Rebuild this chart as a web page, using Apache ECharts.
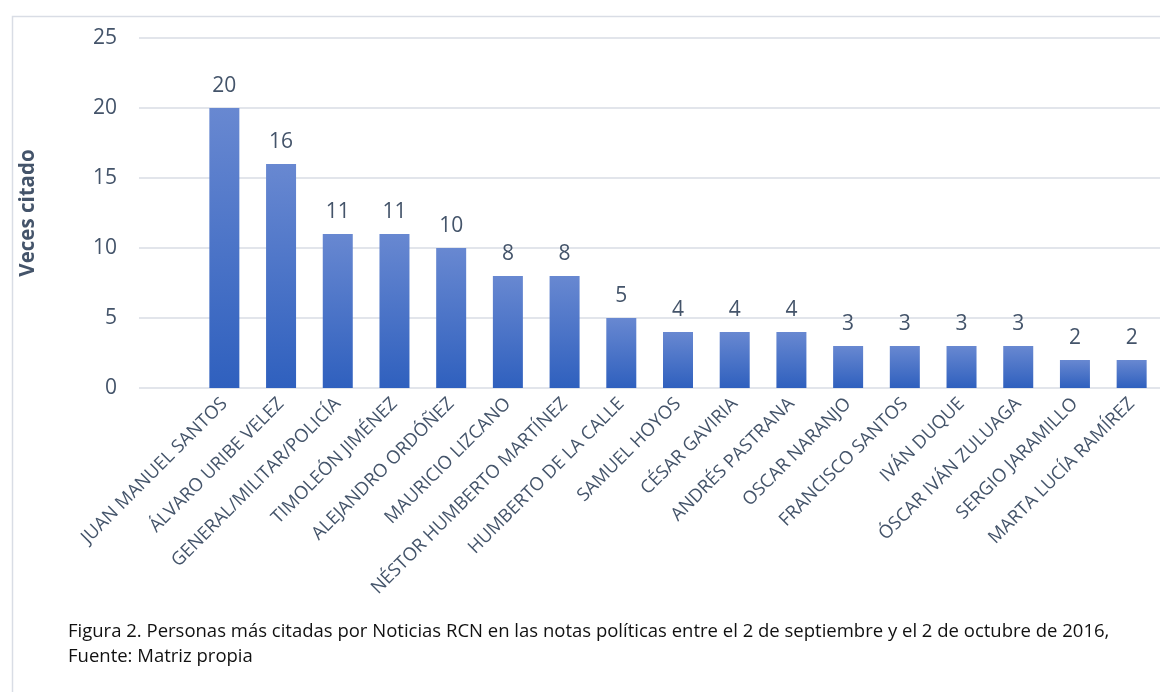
<!DOCTYPE html>
<html>
<head>
<meta charset="utf-8">
<script src="https://cdn.jsdelivr.net/npm/echarts@6/dist/echarts.min.js"></script>
<style>
  html, body { margin: 0; padding: 0; background: #fff; }
  #chart { width: 1160px; height: 692px; }
</style>
</head>
<body>
<div id="chart"></div>
<script>
const personas = [
  'JUAN MANUEL SANTOS', 'ÁLVARO URIBE VELEZ', 'GENERAL/MILITAR/POLICÍA',
  'TIMOLEÓN JIMÉNEZ', 'ALEJANDRO ORDÓÑEZ', 'MAURICIO LIZCANO',
  'NÉSTOR HUMBERTO MARTÍNEZ', 'HUMBERTO DE LA CALLE', 'SAMUEL HOYOS',
  'CÉSAR GAVIRIA', 'ANDRÉS PASTRANA', 'OSCAR NARANJO', 'FRANCISCO SANTOS',
  'IVÁN DUQUE', 'ÓSCAR IVÁN ZULUAGA', 'SERGIO JARAMILLO', 'MARTA LUCÍA RAMÍREZ'
]
const vecesCitado = [20, 16, 11, 11, 10, 8, 8, 5, 4, 4, 4, 3, 3, 3, 3, 2, 2]
const yTicks = [0, 5, 10, 15, 20, 25]

const captionLines = [
  'Figura 2. Personas más citadas por Noticias RCN en las notas políticas entre el 2 de septiembre y el 2 de octubre de 2016,',
  'Fuente: Matriz propia'
]

const font = '"Open Sans", Lato, sans-serif'
const textColor = '#44546a'
const gridColor = '#d9dde5'

const chart = echarts.init(document.getElementById('chart'))

chart.setOption({
  animation: false,
  textStyle: { fontFamily: font },
  graphic: [
    {
      type: 'rect',
      left: 10, top: 14,
      shape: { width: 1300, height: 800 },
      style: { fill: 'none', stroke: '#d9dde5', lineWidth: 1.5 },
      silent: true
    },
    {
      type: 'text',
      left: 68, top: 619,
      style: {
        text: captionLines.join('\n'),
        font: '18.5px ' + font,
        fill: '#111',
        lineHeight: 25
      }
    }
  ],
  grid: [
    { left: 139, right: 0, top: 38, bottom: 304 },
    { left: 196, right: -13, top: 38, bottom: 304 }
  ],
  xAxis: [
    { gridIndex: 0, type: 'value', show: false, min: 0, max: 1 },
    {
      gridIndex: 1,
      type: 'category',
      data: personas,
      axisLine: { show: false },
      axisTick: { show: false },
      axisLabel: {
        rotate: 45,
        interval: 0,
        margin: 13,
        color: textColor,
        fontSize: 18.3,
        fontFamily: font
      }
    }
  ],
  yAxis: [
    {
      gridIndex: 0,
      type: 'value',
      min: yTicks[0],
      max: yTicks[yTicks.length - 1],
      interval: 5,
      name: 'Veces citado',
      nameLocation: 'middle',
      nameGap: 100,
      nameTextStyle: {
        color: textColor, fontSize: 20.5, fontWeight: 'bold', fontFamily: font
      },
      axisLine: { show: false },
      axisTick: { show: false },
      axisLabel: { color: textColor, fontSize: 21, margin: 22, fontFamily: font },
      splitLine: { lineStyle: { color: gridColor, width: 1.5 } }
    },
    {
      gridIndex: 1,
      type: 'value',
      min: yTicks[0],
      max: yTicks[yTicks.length - 1],
      interval: 5,
      show: false,
      splitLine: { show: false }
    }
  ],
  series: [
    {
      type: 'bar',
      xAxisIndex: 1,
      yAxisIndex: 1,
      data: vecesCitado,
      barWidth: 30,
      itemStyle: {
        color: new echarts.graphic.LinearGradient(0, 0, 0, 1, [
          { offset: 0, color: '#6888d1' },
          { offset: 1, color: '#2f60be' }
        ])
      },
      label: {
        show: true,
        position: 'top',
        distance: 11,
        color: textColor,
        fontSize: 21,
        fontFamily: font
      }
    }
  ]
})
</script>
</body>
</html>
